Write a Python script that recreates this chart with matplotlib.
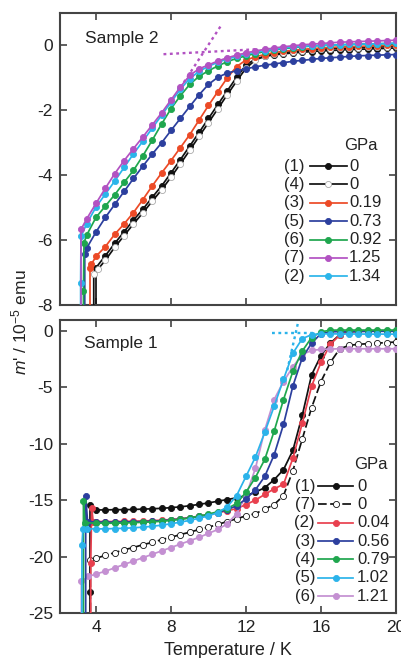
import matplotlib
matplotlib.use("Agg")
import matplotlib.pyplot as plt

plt.rcParams["font.family"] = ["Liberation Sans", "DejaVu Sans"]
plt.rcParams["axes.unicode_minus"] = False
plt.rcParams["mathtext.fontset"] = "custom"
plt.rcParams["mathtext.rm"] = "Liberation Sans"
plt.rcParams["mathtext.it"] = "Liberation Sans:italic"

# common temperature grid (K) above the low-T start of each run
GRID = [4.5, 5.0, 5.5, 6.0, 6.5, 7.0, 7.5, 8.0, 8.5, 9.0, 9.5, 10.0, 10.5, 11.0, 11.5, 12.0,
        12.5, 13.0, 13.5, 14.0, 14.5, 15.0, 15.5, 16.0, 16.5, 17.0, 17.5, 18.0, 18.5, 19.0, 19.5, 20.0]

# ---- Sample 2 (top) ----
s2_black_T0 = [4.0, 4.0]
s2_black_m0 = [-9.0, -6.85]
s2_black_m = [-6.48, -6.1, -5.74, -5.38, -5.05, -4.68, -4.33, -3.93, -3.52, -3.1, -2.68, -2.25, -1.82, -1.4, -0.98, -0.6,
              -0.42, -0.34, -0.29, -0.26, -0.23, -0.21, -0.19, -0.17, -0.16, -0.14, -0.13, -0.12, -0.11, -0.1, -0.09, -0.08]
s2_open_T0 = [3.88, 3.88, 4.1]
s2_open_m0 = [-9.0, -7.05, -6.9]
s2_open_m = [-6.62, -6.22, -5.86, -5.5, -5.16, -4.8, -4.45, -4.06, -3.65, -3.23, -2.8, -2.38, -1.95, -1.52, -1.1, -0.7,
             -0.45, -0.33, -0.27, -0.22, -0.19, -0.16, -0.14, -0.12, -0.1, -0.09, -0.08, -0.07, -0.06, -0.05, -0.04, -0.03]
s2_red_T0 = [3.68, 3.68, 3.75, 4.0]
s2_red_m0 = [-9.0, -6.85, -6.75, -6.5]
s2_red_m = [-6.2, -5.82, -5.5, -5.15, -4.75, -4.33, -3.93, -3.55, -3.15, -2.75, -2.3, -1.85, -1.42, -1.0, -0.65, -0.45,
            -0.35, -0.28, -0.22, -0.18, -0.15, -0.12, -0.1, -0.08, -0.06, -0.05, -0.04, -0.03, -0.02, -0.01, 0.0, 0.0]
s2_blue_T0 = [3.4, 3.4, 3.5, 4.0]
s2_blue_m0 = [-9.0, -6.44, -6.25, -5.75]
s2_blue_m = [-5.3, -4.9, -4.5, -4.1, -3.72, -3.35, -3.0, -2.62, -2.25, -1.88, -1.52, -1.2, -0.98, -0.85, -0.78, -0.72,
             -0.66, -0.61, -0.57, -0.53, -0.49, -0.46, -0.43, -0.4, -0.38, -0.36, -0.34, -0.32, -0.31, -0.3, -0.29, -0.28]
s2_green_T0 = [3.33, 3.33, 3.36, 3.5, 4.0]
s2_green_m0 = [-9.0, -7.57, -6.08, -5.85, -5.3]
s2_green_m = [-4.95, -4.6, -4.22, -3.85, -3.4, -2.92, -2.42, -1.95, -1.55, -1.2, -0.95, -0.78, -0.63, -0.5, -0.4, -0.32,
              -0.25, -0.19, -0.14, -0.1, -0.07, -0.04, -0.02, 0.0, 0.01, 0.02, 0.03, 0.04, 0.05, 0.05, 0.06, 0.06]
s2_mag_T0 = [3.2, 3.2, 3.5, 4.0]
s2_mag_m0 = [-9.0, -5.67, -5.35, -4.87]
s2_mag_m = [-4.4, -3.95, -3.55, -3.18, -2.82, -2.45, -2.08, -1.68, -1.28, -0.92, -0.72, -0.6, -0.48, -0.38, -0.3, -0.23,
            -0.17, -0.12, -0.08, -0.04, -0.01, 0.02, 0.04, 0.06, 0.08, 0.1, 0.11, 0.12, 0.13, 0.14, 0.15, 0.16]
s2_cyan_T0 = [3.18, 3.18, 3.2, 3.5, 4.0]
s2_cyan_m0 = [-9.0, -7.31, -5.88, -5.5, -4.98]
s2_cyan_m = [-4.58, -4.18, -3.76, -3.34, -2.95, -2.55, -2.15, -1.75, -1.35, -1.02, -0.8, -0.64, -0.52, -0.42, -0.34, -0.27,
             -0.21, -0.16, -0.12, -0.08, -0.05, -0.03, -0.01, 0.0, 0.01, 0.02, 0.03, 0.04, 0.05, 0.05, 0.06, 0.07]
# tangent construction (dotted)
s2_tan_T = [8.5, 10.7]
s2_tan_m = [-1.3, 0.64]
s2_base_T = [7.6, 12.5]
s2_base_m = [-0.27, -0.12]

# ---- Sample 1 (bottom) ----
s1_black_T0 = [3.68, 3.68, 3.68, 4.0]
s1_black_m0 = [-27.0, -23.1, -15.4, -15.87]
s1_black_m = [-15.87, -15.85, -15.85, -15.83, -15.8, -15.77, -15.73, -15.67, -15.6, -15.5, -15.38, -15.25, -15.1, -14.95, -14.8, -14.6,
              -14.3, -13.9, -13.2, -12.3, -10.6, -7.5, -3.9, -2.2, -1.1, -0.35, -0.1, -0.05, -0.03, -0.02, -0.02, -0.02]
s1_open_T0 = [3.7, 3.7, 4.0]
s1_open_m0 = [-27.0, -20.3, -20.15]
s1_open_m = [-19.9, -19.65, -19.4, -19.2, -18.95, -18.75, -18.5, -18.3, -18.05, -17.85, -17.6, -17.4, -17.15, -16.9, -16.65, -16.4,
             -16.2, -15.8, -15.4, -14.6, -12.4, -9.6, -6.8, -4.5, -2.8, -1.6, -1.3, -1.2, -1.15, -1.1, -1.05, -1.0]
s1_red_T0 = [3.72, 3.72, 3.77, 3.85, 4.0]
s1_red_m0 = [-27.0, -20.6, -15.7, -16.9, -16.9]
s1_red_m = [-16.9, -16.9, -16.88, -16.87, -16.85, -16.82, -16.78, -16.72, -16.65, -16.55, -16.42, -16.28, -16.12, -15.95, -15.75, -15.4,
            -15.0, -14.5, -14.0, -13.6, -11.3, -8.2, -4.9, -2.8, -1.2, -0.4, -0.1, -0.05, -0.03, -0.02, -0.02, -0.02]
s1_blue_T0 = [3.45, 3.45, 3.55, 4.0]
s1_blue_m0 = [-27.0, -14.6, -16.9, -16.95]
s1_blue_m = [-16.95, -16.95, -16.93, -16.92, -16.9, -16.87, -16.82, -16.76, -16.68, -16.58, -16.45, -16.3, -16.1, -15.85, -15.5, -14.9,
             -14.1, -12.9, -11.0, -8.3, -4.9, -2.4, -1.1, -0.25, -0.1, -0.08, -0.07, -0.06, -0.06, -0.05, -0.05, -0.05]
s1_green_T0 = [3.33, 3.33, 3.42, 4.0]
s1_green_m0 = [-27.0, -15.1, -17.0, -17.05]
s1_green_m = [-17.05, -17.05, -17.03, -17.0, -16.97, -16.93, -16.88, -16.8, -16.7, -16.58, -16.42, -16.25, -16.02, -15.75, -15.3, -14.3,
              -13.0, -11.4, -8.9, -6.1, -3.6, -1.8, -0.6, -0.1, 0.05, 0.06, 0.06, 0.06, 0.06, 0.06, 0.06, 0.06]
s1_cyan_T0 = [3.25, 3.25, 3.3, 3.5, 4.0]
s1_cyan_m0 = [-27.0, -19.0, -17.6, -17.55, -17.55]
s1_cyan_m = [-17.55, -17.52, -17.5, -17.45, -17.4, -17.32, -17.22, -17.1, -16.95, -16.8, -16.6, -16.4, -16.1, -15.6, -14.6, -12.9,
             -11.2, -9.0, -6.7, -4.3, -2.0, -0.7, -0.35, -0.28, -0.28, -0.28, -0.29, -0.29, -0.3, -0.3, -0.3, -0.3]
s1_purp_T0 = [3.22, 3.22, 3.6, 4.0]
s1_purp_m0 = [-27.0, -22.2, -21.76, -21.55]
s1_purp_m = [-21.3, -21.0, -20.7, -20.4, -20.1, -19.8, -19.5, -19.2, -18.9, -18.6, -18.3, -17.95, -17.6, -17.1, -16.2, -14.6,
             -12.2, -8.8, -6.1, -4.5, -3.2, -2.1, -1.75, -1.65, -1.62, -1.6, -1.6, -1.6, -1.6, -1.6, -1.6, -1.6]
s1_tan_T = [14.2, 14.8]
s1_tan_m = [-3.5, 0.9]
s1_base_T = [13.4, 15.6]
s1_base_m = [-0.23, -0.23]

s2_labels = ["(1)", "(4)", "(3)", "(5)", "(6)", "(7)", "(2)"]
s2_press = ["0", "0", "0.19", "0.73", "0.92", "1.25", "1.34"]
s1_labels = ["(1)", "(7)", "(2)", "(3)", "(4)", "(5)", "(6)"]
s1_press = ["0", "0", "0.04", "0.56", "0.79", "1.02", "1.21"]

BLACK = "#111111"
# (line color, marker face, marker edge, linestyle)
s2_styles = [(BLACK, BLACK, BLACK, "-"), (BLACK, "white", "#aaaaaa", "-"),
             ("#ec4a26", "#ec4a26", "#ec4a26", "-"), ("#2c3f9e", "#2c3f9e", "#2c3f9e", "-"),
             ("#1fa64e", "#1fa64e", "#1fa64e", "-"), ("#b252c2", "#b252c2", "#b252c2", "-"),
             ("#2bb5ea", "#2bb5ea", "#2bb5ea", "-")]
s1_styles = [(BLACK, BLACK, BLACK, "-"), (BLACK, "white", BLACK, (0, (5, 2))),
             ("#e8404e", "#e8404e", "#e8404e", "-"), ("#2c3f9e", "#2c3f9e", "#2c3f9e", "-"),
             ("#1fa64e", "#1fa64e", "#1fa64e", "-"), ("#2bb3ea", "#2bb3ea", "#2bb3ea", "-"),
             ("#c490d2", "#c490d2", "#c490d2", "-")]

fig = plt.figure(figsize=(4.02, 6.58), dpi=100)
ax2 = fig.add_axes([60 / 402, 1 - 305 / 658, 336 / 402, 292 / 658])
ax1 = fig.add_axes([60 / 402, 1 - 613 / 658, 336 / 402, 293 / 658])

MS = 4.4


def draw(ax, T0, m0, m, style, z):
    lc, mf, me, ls = style
    ax.plot(T0 + GRID, m0 + m, color=lc, linestyle=ls, linewidth=1.25, marker="o",
            markersize=MS, markerfacecolor=mf, markeredgecolor=me, markeredgewidth=0.6,
            zorder=z)


top = [(s2_black_T0, s2_black_m0, s2_black_m), (s2_open_T0, s2_open_m0, s2_open_m),
       (s2_red_T0, s2_red_m0, s2_red_m), (s2_blue_T0, s2_blue_m0, s2_blue_m),
       (s2_green_T0, s2_green_m0, s2_green_m), (s2_mag_T0, s2_mag_m0, s2_mag_m),
       (s2_cyan_T0, s2_cyan_m0, s2_cyan_m)]
top_order = [0, 1, 2, 3, 4, 6, 5]
for i, k in enumerate(top_order):
    draw(ax2, *top[k], s2_styles[k], 2 + i)
ax2.plot(s2_tan_T, s2_tan_m, color="#b252c2", linestyle=(0, (1.2, 1.5)), linewidth=1.7, zorder=10)
ax2.plot(s2_base_T, s2_base_m, color="#b252c2", linestyle=(0, (1.2, 1.5)), linewidth=1.7, zorder=1)

bot = [(s1_black_T0, s1_black_m0, s1_black_m), (s1_open_T0, s1_open_m0, s1_open_m),
       (s1_red_T0, s1_red_m0, s1_red_m), (s1_blue_T0, s1_blue_m0, s1_blue_m),
       (s1_green_T0, s1_green_m0, s1_green_m), (s1_cyan_T0, s1_cyan_m0, s1_cyan_m),
       (s1_purp_T0, s1_purp_m0, s1_purp_m)]
bot_order = [0, 1, 2, 6, 3, 4, 5]
for i, k in enumerate(bot_order):
    draw(ax1, *bot[k], s1_styles[k], 2 + i)
ax1.plot(s1_tan_T, s1_tan_m, color="#2bb3ea", linestyle=(0, (1.2, 1.5)), linewidth=1.7, zorder=10)
ax1.plot(s1_base_T, s1_base_m, color="#2bb3ea", linestyle=(0, (1.2, 1.5)), linewidth=1.7, zorder=1)

for ax in (ax1, ax2):
    ax.set_xlim(2.08, 20)
    ax.set_xticks([4, 8, 12, 16, 20])
    ax.tick_params(direction="in", length=5, width=1.1, top=True, right=True,
                   labelsize=12.5, pad=5, colors="#333333", labelcolor="#222222")
    for sp in ax.spines.values():
        sp.set_linewidth(1.5)
        sp.set_color("#444444")

ax2.set_ylim(-8, 1)
ax2.set_yticks([0, -2, -4, -6, -8])
ax2.tick_params(labelbottom=False)
ax1.set_ylim(-25, 0.95)
ax1.set_yticks([0, -5, -10, -15, -20, -25])
ax1.set_xlabel("Temperature / K", fontsize=13, labelpad=5, color="#222222")

ax2.text(0.074, 0.914, "Sample 2", transform=ax2.transAxes, fontsize=12.5,
         va="center", ha="left", color="#222222")
ax1.text(0.07, 0.92, "Sample 1", transform=ax1.transAxes, fontsize=12.5,
         va="center", ha="left", color="#222222")

fig.text(0.048, 0.51, "$m$' / 10$^{-5}$ emu", rotation=90, fontsize=12.5,
         va="center", ha="center", color="#222222")


def legend(ax, labels, press, styles, ytop, dy, xlab, x0, x1, xval, ygpa, xgpa):
    ax.text(xgpa, ygpa, "GPa", transform=ax.transAxes, fontsize=12,
            ha="center", va="center", color="#222222")
    for i, (lab, p, st) in enumerate(zip(labels, press, styles)):
        y = ytop - i * dy
        lc, mf, me, ls = st
        ax.text(xlab, y, lab, transform=ax.transAxes, fontsize=12, ha="right",
                va="center", color="#222222")
        ax.plot([x0, x1], [y, y], transform=ax.transAxes, color=lc, linestyle=ls,
                linewidth=1.25, zorder=20)
        ax.plot([(x0 + x1) / 2], [y], transform=ax.transAxes, marker="o", markersize=MS,
                markerfacecolor=mf, markeredgecolor=me, markeredgewidth=0.6, zorder=21)
        ax.text(xval, y, p, transform=ax.transAxes, fontsize=12, ha="left",
                va="center", color="#222222")


legend(ax2, s2_labels, s2_press, s2_styles, 0.476, 0.063, 0.729, 0.744, 0.854, 0.86, 0.545, 0.895)
legend(ax1, s1_labels, s1_press, s1_styles, 0.433, 0.0625, 0.759, 0.768, 0.872, 0.884, 0.508, 0.925)

fig.savefig("out.png", dpi=100)
